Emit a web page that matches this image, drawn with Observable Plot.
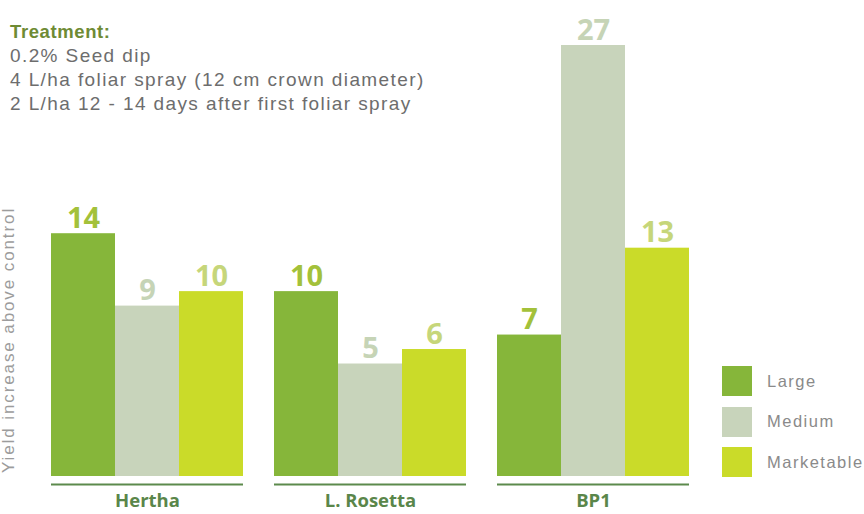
<!DOCTYPE html>
<html>
<head>
<meta charset="utf-8">
<script src="https://cdn.jsdelivr.net/npm/d3@7"></script>
<script src="https://cdn.jsdelivr.net/npm/@observablehq/plot@0.6"></script>
<style>
  html, body { margin: 0; padding: 0; background: #fff; overflow: hidden; }
  #wrap { position: relative; width: 864px; height: 514px; overflow: hidden; font-family: "Liberation Sans", Arial, sans-serif; }
  #wrap svg { position: absolute; left: 0; top: 0; }
  #title { position: absolute; left: 10px; top: 20px; font-size: 19px; line-height: 24px; color: #6d6d6d; letter-spacing: 1.4px; }
  #title .head { color: #6e8b34; font-weight: 700; letter-spacing: 0.6px; font-size: 18.5px; }
  #ylabel { position: absolute; left: 9px; top: 340px; transform: translate(-50%, -50%) rotate(-90deg); white-space: nowrap; font-size: 17px; color: #9c9c9c; letter-spacing: 1.9px; }
  #legend { position: absolute; left: 722px; top: 366px; }
  .item { display: flex; align-items: center; height: 30px; margin-bottom: 10.5px; }
  .sw { width: 30px; height: 30px; margin-right: 15px; }
  .lab { font-size: 16.5px; color: #8a8a8a; letter-spacing: 1.5px; }
</style>
</head>
<body>
<div id="wrap">
  <div id="title"></div>
  <div id="ylabel"></div>
  <div id="legend"></div>
</div>
<script>
const titleHead = "Treatment:";
const titleLines = ["0.2% Seed dip", "4 L/ha foliar spray (12 cm crown diameter)", "2 L/ha 12 - 14 days after first foliar spray"];
const yLabel = "Yield increase above control";
const groups = ["Hertha", "L. Rosetta", "BP1"];
const sizes = ["Large", "Medium", "Marketable"];
const hertha = [14, 9, 10];
const rosetta = [10, 5, 6];
const bp1 = [7, 27, 13];
const barColors = ["#86b63a", "#c8d4bb", "#cadb29"];
const labelColors = ["#a3c13a", "#c6d4b6", "#c6d67a"];

const seriesByGroup = [hertha, rosetta, bp1];
const data = [];
groups.forEach((g, gi) => sizes.forEach((s, si) => data.push({group: g, size: s, value: seriesByGroup[gi][si], si})));

const yBase = -2.77;

const plot = Plot.plot({
  width: 864,
  height: 514,
  marginLeft: 51,
  marginRight: 175,
  marginTop: 0,
  marginBottom: 38,
  style: {fontFamily: "Open Sans, sans-serif", background: "transparent"},
  fx: {domain: groups, paddingInner: 31 / 223, paddingOuter: 0, axis: null, label: null},
  x: {domain: sizes, padding: 0, axis: null},
  y: {domain: [yBase, 27], range: [476, 45], axis: null},
  color: {type: "identity"},
  marks: [
    Plot.barY(data, {fx: "group", x: "size", y1: () => yBase, y2: "value", fill: d => barColors[d.si], inset: 0}),
    Plot.text(data, {fx: "group", x: "size", y: "value", text: d => String(d.value), lineAnchor: "bottom", dy: -6,
      fill: d => labelColors[d.si], fontSize: 29, fontWeight: 700}),
    Plot.ruleY([yBase], {dy: 8, stroke: "#5c8a4c", strokeWidth: 2}),
    Plot.text(groups, {fx: d => d, text: d => d, frameAnchor: "bottom", dy: 25, lineAnchor: "middle",
      fill: "#5a864a", fontSize: 18.5, fontWeight: 700, letterSpacing: 0.9})
  ]
});
document.getElementById("wrap").insertBefore(plot, document.getElementById("title"));

const t = document.getElementById("title");
const h = document.createElement("div"); h.className = "head"; h.textContent = titleHead; t.appendChild(h);
titleLines.forEach(l => { const d = document.createElement("div"); d.textContent = l; t.appendChild(d); });
document.getElementById("ylabel").textContent = yLabel;
const lg = document.getElementById("legend");
sizes.forEach((s, i) => {
  const it = document.createElement("div"); it.className = "item";
  const sw = document.createElement("div"); sw.className = "sw"; sw.style.background = barColors[i];
  const lb = document.createElement("div"); lb.className = "lab"; lb.textContent = s;
  it.appendChild(sw); it.appendChild(lb); lg.appendChild(it);
});
</script>
</body>
</html>
